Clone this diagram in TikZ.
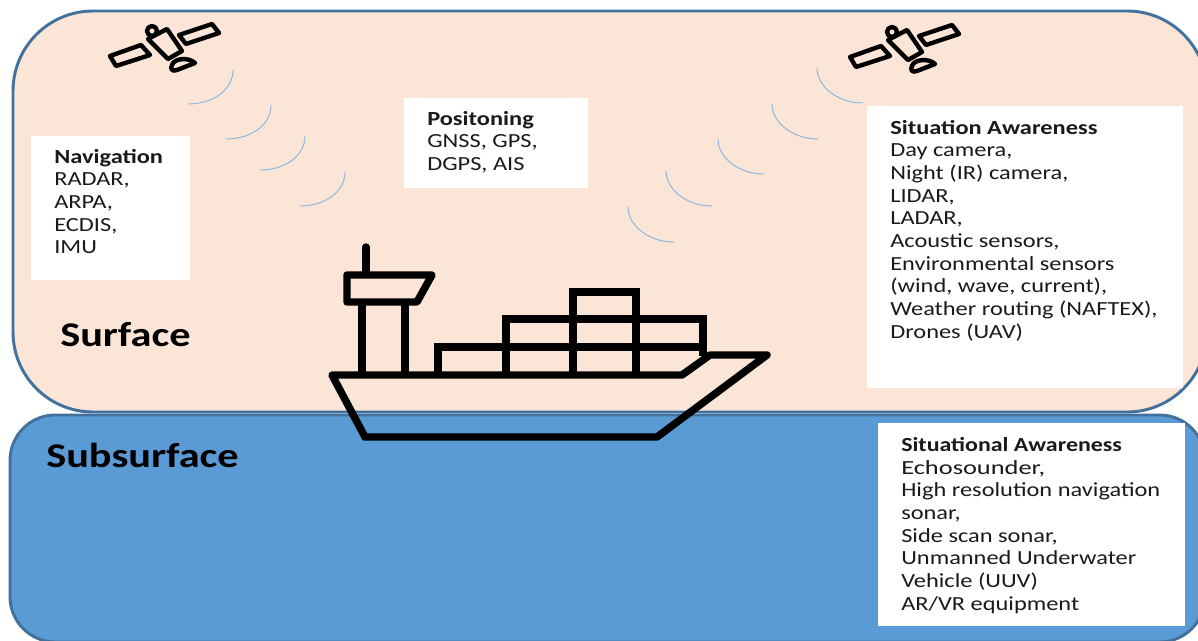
\documentclass[tikz,border=0pt]{standalone}
\usepackage{fontspec}
\setmainfont[FakeStretch=1.22]{Carlito}
\newfontfamily\widefont[FakeStretch=1.32]{Carlito}
\newfontfamily\widetitle[FakeStretch=1.195]{Carlito}
\usepackage{tikz}
\usetikzlibrary{positioning}
\definecolor{surfacefill}{HTML}{FBE5D6}
\definecolor{waterfill}{HTML}{5B9BD5}
\definecolor{edgeblue}{HTML}{41719C}
\definecolor{signalblue}{HTML}{8DB6E0}
\definecolor{inktext}{HTML}{1A1A1A}
\tikzset{
    zone/.style={draw=edgeblue, line width=2.2pt},
    infobox/.style={fill=white, anchor=north west, inner sep=0pt},
    infotext/.style={anchor=north west, align=left, inner sep=0pt, text=inktext, font=\fontsize{15}{17}\selectfont},
    zonelabel/.style={anchor=west, inner sep=0pt, text=black, font=\fontsize{26}{30}\selectfont\bfseries},
    shipline/.style={draw=black, line width=5.6pt, line join=round, line cap=round},
    crateline/.style={draw=black, line width=6pt, line join=miter},
    signal/.style={draw=signalblue, line width=0.75pt},
    satline/.style={draw=black, line width=3.3pt, line join=round},
    satellite/.pic={
        \draw[satline] (-55,13) -- (-24,2) -- (-15,12) -- (-49,23) -- cycle;
        \draw[satline] (14,-8) -- (47,-19) -- (54,-10) -- (21,1) -- cycle;
        \draw[satline] (-17,-4) -- (2,-14) -- (17,8) -- (3,16) -- cycle;
        \draw[satline] (-13,-12) circle[radius=5];
        \draw[satline] (7,22) .. controls (9,15) and (24,14) .. (30,20) -- (12,27) .. controls (7,29) and (5,26) .. (7,22) -- cycle;
    }
}
\begin{document}
\begin{tikzpicture}[x=0.75pt, y=-0.75pt]
    \useasboundingbox (0,0) rectangle (1198,641);
    \clip (0,0) rectangle (1198,641);

    % ---------------- ZONES ---------------- %
    \draw[zone, fill=waterfill, rounded corners=34pt] (10,415) rectangle (1205,642);
    \draw[zone, fill=surfacefill, rounded corners=60pt] (13,11) rectangle (1207,412);
    \node[zonelabel] (surface) at (60,335) {Surface};
    \node[zonelabel] (subsurface) at (46,455) {Subsurface};

    % ---------------- SATELLITES ---------------- %
    \pic at (165,43) {satellite};
    \pic at (905,44) {satellite};

    % Signal arcs
    \foreach \sx/\sy in {233/70, 271/105, 305/136, 345/172}
        \draw[signal] (\sx,\sy) .. controls (\sx,\sy+20) and (\sx-20,\sy+34) .. (\sx-45,\sy+34);
    \foreach \sx/\sy in {817/68, 772/104, 718/139, 666/171, 628/207}
        \draw[signal] (\sx,\sy) .. controls (\sx,\sy+18) and (\sx+20,\sy+35) .. (\sx+46,\sy+35);

    % ---------------- INFO BOXES ---------------- %
    \node[infobox, minimum width=119.25pt, minimum height=108pt] (navbox) at (31,136) {};
    \node[infotext] (navtext) at (54,149) {\textbf{Navigation}\\RADAR,\\ARPA,\\ECDIS,\\IMU};

    \node[infobox, minimum width=138pt, minimum height=67.5pt] (posbox) at (404,98) {};
    \node[infotext] (postext) at (427,111) {\textbf{Positoning}\\GNSS, GPS,\\DGPS, AIS};

    \node[infobox, minimum width=237pt, minimum height=211.5pt] (sitbox) at (867,106) {};
    \node[infotext] (sittext) at (890,120) {\textbf{Situation Awareness}\\Day camera,\\Night (IR) camera,\\LIDAR,\\LADAR,\\Acoustic sensors,\\Environmental sensors\\(wind, wave, current),\\Weather routing (NAFTEX),\\Drones (UAV)};

    \node[infobox, minimum width=230.25pt, minimum height=152.25pt] (subbox) at (878,423) {};
    \node[infotext] (subtext) at (901,437) {{\widetitle\bfseries Situational Awareness}\\\widefont Echosounder,\\High resolution navigation\\sonar,\\Side scan sonar,\\Unmanned Underwater\\Vehicle (UUV)\\AR/VR equipment};

    % ---------------- SHIP ---------------- %
    % Containers
    \draw[crateline] (438,375) -- (438,347) -- (703,347);
    \draw[crateline] (506,375) -- (506,319) -- (703,319) -- (703,356);
    \draw[crateline] (573,375) -- (573,292) -- (636,292) -- (636,375);
    % Tower
    \draw[shipline] (366,247) -- (366,273);
    \draw[shipline] (347,275) -- (432,275) -- (417,302) -- (347,302) -- cycle;
    \draw[crateline, line width=5.4pt] (362,302) -- (362,375);
    \draw[crateline, line width=5.4pt] (405,302) -- (405,375);
    % Hull
    \draw[shipline] (332,375) -- (365,437) -- (657,437) -- (767,355) -- (710,355) -- (682,375) -- cycle;
\end{tikzpicture}
\end{document}
